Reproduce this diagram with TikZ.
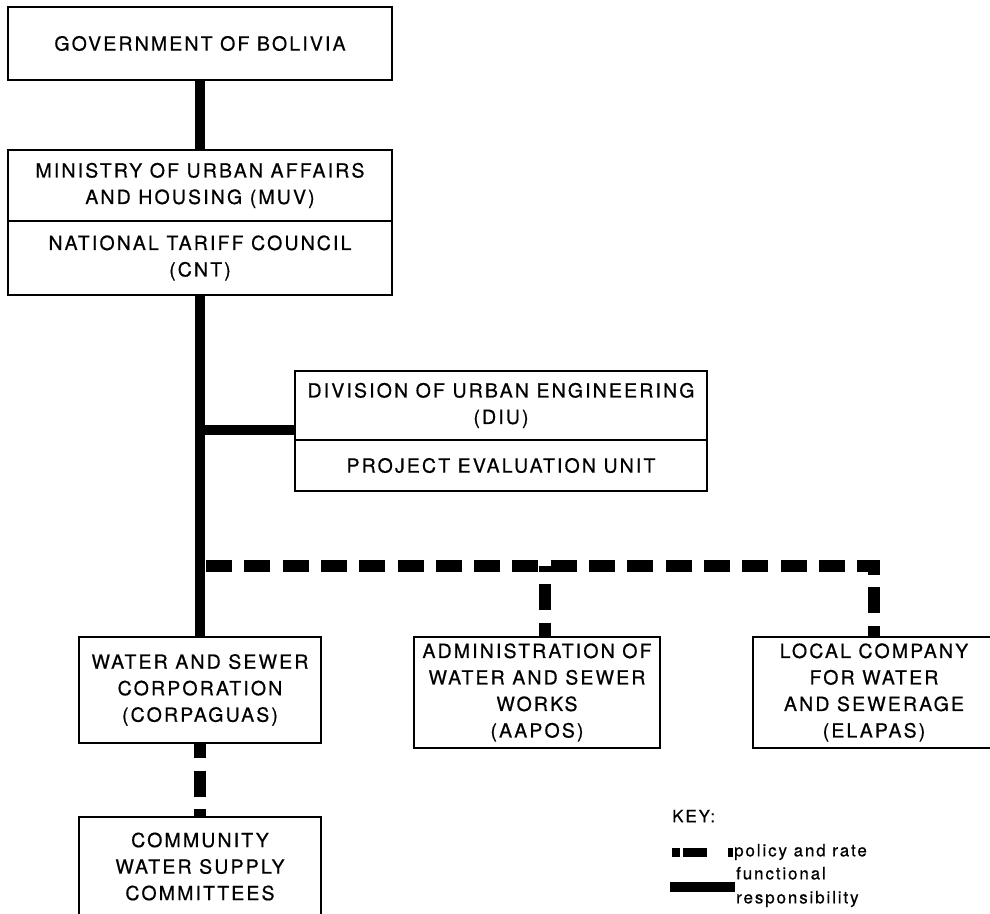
\documentclass[tikz,border=0pt]{standalone}
\usepackage{fontspec}
\setmainfont[LetterSpace=11,FakeBold=0.6]{TeX Gyre Heros}
\begin{document}
\begin{tikzpicture}[x=1pt,y=-1pt,
        box/.style={draw,line width=2.6pt,align=center,inner sep=0pt,font=\fontsize{19.5}{26.5}\selectfont},
        keytext/.style={anchor=west,inner sep=1pt,align=left,font=\fontsize{17}{24}\selectfont},
        func/.style={line width=10pt},
        policy/.style={line width=12pt,dash pattern=on 26pt off 12.3pt}]
        \clip (0,0) rectangle (990,913);
        \node[box,minimum width=384,minimum height=73] (gov) at (200,43.5) {GOVERNMENT OF BOLIVIA};
        \node[box,minimum width=384,minimum height=71] (muv) at (200,185.5) {MINISTRY OF URBAN AFFAIRS\\AND HOUSING (MUV)};
        \node[box,minimum width=384,minimum height=74] (cnt) at (200,258) {NATIONAL TARIFF COUNCIL\\(CNT)};
        \node[box,minimum width=412,minimum height=69] (diu) at (501,405.5) {DIVISION OF URBAN ENGINEERING\\(DIU)};
        \node[box,minimum width=412,minimum height=51] (peu) at (501,465.5) {PROJECT EVALUATION UNIT};
        \node[box,minimum width=242,minimum height=106] (corp) at (200,690) {WATER AND SEWER\\CORPORATION\\(CORPAGUAS)};
        \node[box,minimum width=246,minimum height=111] (aapos) at (537,692.5) {ADMINISTRATION OF\\WATER AND SEWER\\WORKS\\(AAPOS)};
        \node[box,minimum width=242,minimum height=111] (elapas) at (874,692.5) {LOCAL COMPANY\\FOR WATER\\AND SEWERAGE\\(ELAPAS)};
        \node[box,minimum width=242,minimum height=99] (comm) at (200,866.5) {COMMUNITY\\WATER SUPPLY\\COMMITTEES};
        \coordinate (br) at (200,430);
        \coordinate (dj) at (200,566);
        \coordinate (aj) at (545,566);
        \draw[func] (gov.south) -- (muv.north);
        \draw[func] (cnt.south) -- (corp.north);
        \draw[func] (br) -- (br -| diu.west);
        \draw[policy,dash phase=32.3pt] (dj) -| (elapas.north);
        \draw[policy,dash phase=20pt] (aj) -- (aj |- aapos.north);
        \draw[policy,dash phase=12pt] (corp.south) -- (comm.north);
        \node[keytext] (key) at (671,816) {KEY:};
        \coordinate (pa) at (672,852);
        \coordinate (pb) at (733,852);
        \draw[line width=9pt,dash pattern=on 8pt off 3pt on 24pt off 21pt on 5pt off 50pt] (pa) -- (pb);
        \node[keytext] (pol) at (pb) {policy and rate};
        \coordinate (fa) at (670,887);
        \coordinate (fb) at (735,887);
        \draw[line width=10pt] (fa) -- (fb);
        \node[keytext] (fun) at (fb) {functional\\responsibility};
    \end{tikzpicture}
\end{document}
